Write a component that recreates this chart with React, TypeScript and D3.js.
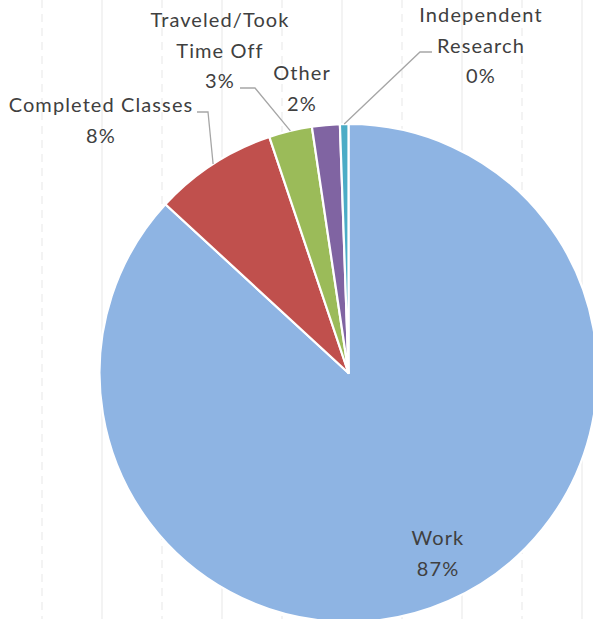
import React from "react";
import * as d3 from "d3";

const categories = ["Work", "Completed Classes", "Traveled/Took Time Off", "Other", "Independent Research"];
const values = [86.85, 8.0, 2.8, 1.8, 0.55];
const percentLabels = ["87%", "8%", "3%", "2%", "0%"];
const labelLines = [["Work"], ["Completed Classes"], ["Traveled/Took", "Time Off"], ["Other"], ["Independent", "Research"]];
const colors = ["#8EB4E3", "#C0504D", "#9BBB59", "#8064A2", "#4BACC6"];

const W = 593;
const H = 619;
const cx = 348.5;
const cy = 373;
const R = 249;

// label layout: center x, first baseline y, optional leader elbow [x1,y1,x2,y2] (text end -> elbow)
const labelLayout = [
  { x: 438, y: 545, leader: null as null | number[] },
  { x: 101, y: 112, leader: [197, 112, 208, 112] },
  { x: 220, y: 27, leader: [240, 88, 255, 88] },
  { x: 302, y: 80, leader: null },
  { x: 481, y: 22, leader: [432, 52, 420, 52] },
];

const gridX = d3.range(0, 10).map((i) => 42 + i * 60);

export default function App() {
  const pie = d3.pie<number>().sort(null).value((d) => d)(values);
  const arc = d3.arc<d3.PieArcDatum<number>>().innerRadius(0).outerRadius(R);
  const lineH = 30.5;
  return (
    <svg
      width={W}
      height={H}
      style={{ position: "absolute", left: 0, top: 0, display: "block", background: "#fff" }}
      fontFamily="Lato, 'Open Sans', sans-serif"
    >
      {gridX.map((x, i) => (
        <line
          key={x}
          x1={x}
          x2={x}
          y1={0}
          y2={H}
          stroke="#EBEBEB"
          strokeWidth={1.2}
          strokeDasharray={i % 2 === 0 ? "8,6" : undefined}
        />
      ))}
      <g transform={`translate(${cx},${cy})`}>
        {pie.map((p, i) => (
          <path key={i} d={arc(p) || ""} fill={colors[i]} stroke="#fff" strokeWidth={2.2} strokeLinejoin="round" />
        ))}
      </g>
      {pie.map((p, i) => {
        const L = labelLayout[i];
        if (!L.leader) return null;
        const mid = (p.startAngle + p.endAngle) / 2;
        const ex = cx + R * Math.sin(mid);
        const ey = cy - R * Math.cos(mid);
        const [x1, y1, x2, y2] = L.leader;
        return (
          <polyline
            key={"l" + i}
            points={`${x1},${y1} ${x2},${y2} ${ex},${ey}`}
            fill="none"
            stroke="#A6A6A6"
            strokeWidth={1.3}
          />
        );
      })}
      {labelLayout.map((L, i) => {
        const lines = [...labelLines[i], percentLabels[i]];
        return (
          <text key={"t" + i} textAnchor="middle" fill="#404040" fontSize={20} letterSpacing={1.1}>
            {lines.map((s, j) => (
              <tspan key={j} x={L.x} y={L.y + j * lineH}>
                {s}
              </tspan>
            ))}
          </text>
        );
      })}
    </svg>
  );
}
